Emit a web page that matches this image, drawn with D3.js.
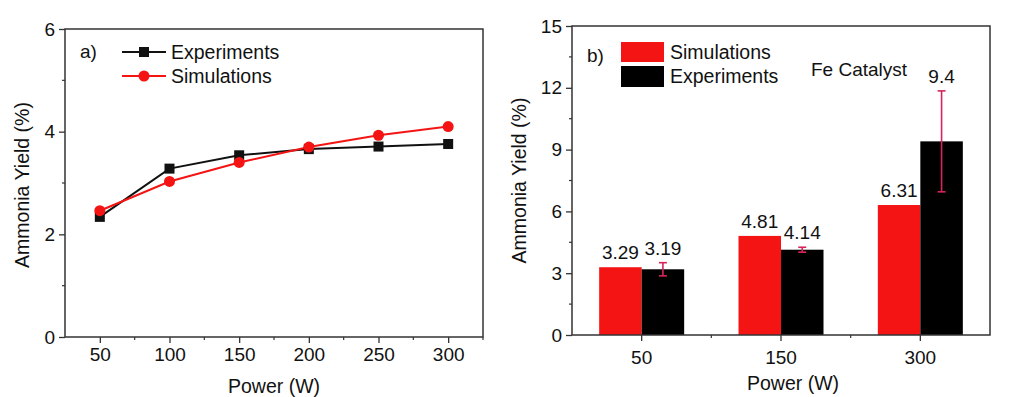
<!DOCTYPE html>
<html>
<head>
<meta charset="utf-8">
<script src="https://cdn.jsdelivr.net/npm/d3@7"></script>
<style>
  body { margin: 0; background: #fff; }
  svg { display: block; font-family: "Liberation Sans", Arial, sans-serif; }
  text { fill: #111; }
</style>
</head>
<body>
<svg id="chart" width="1017" height="397"></svg>
<script>
// panel a) line chart
const powerA   = [50, 100, 150, 200, 250, 300]
const expA     = [2.34, 3.28, 3.54, 3.66, 3.71, 3.76]
const simA     = [2.46, 3.03, 3.40, 3.70, 3.93, 4.10]
const xTicksA  = [50, 100, 150, 200, 250, 300]
const yTicksA  = [0, 2, 4, 6]

// panel b) bar chart
const powerB   = ['50', '150', '300']
const simB     = [3.29, 4.81, 6.31]
const expB     = [3.19, 4.14, 9.4]
const expErrB  = [0.32, 0.12, 2.45]
const yTicksB  = [0, 3, 6, 9, 12, 15]

const RED = '#f41414'
const ERR = '#d8245a'
const AX  = '#333'
const FS  = 19

const svg = d3.select('#chart')

function frame(g, x0, x1, y0, y1) {
  g.append('rect')
    .attr('x', x0).attr('y', y0)
    .attr('width', x1 - x0).attr('height', y1 - y0)
    .attr('fill', 'none').attr('stroke', AX).attr('stroke-width', 1.5)
}

function styleAxis(a) {
  a.select('.domain').remove()
  a.selectAll('line').attr('stroke', AX).attr('stroke-width', 1.3)
  a.selectAll('text').attr('font-size', FS).attr('fill', '#111')
    .style('font-family', '"Liberation Sans", Arial, sans-serif')
}

// ---------- panel a ----------
{
  const L = 65, R = 483, T = 29, B = 337
  const x = d3.scaleLinear().domain([25, 325]).range([L, R])
  const y = d3.scaleLinear().domain([0, 6]).range([B, T])
  const g = svg.append('g')

  // minor ticks
  g.append('g').selectAll('line').data(d3.range(75, 326, 50)).join('line')
    .attr('x1', d => x(d)).attr('x2', d => x(d)).attr('y1', B).attr('y2', B + 3)
    .attr('stroke', AX).attr('stroke-width', 1.2)
  g.append('g').selectAll('line').data([1, 3, 5]).join('line')
    .attr('y1', d => y(d)).attr('y2', d => y(d)).attr('x1', L).attr('x2', L - 3)
    .attr('stroke', AX).attr('stroke-width', 1.2)

  g.append('g').attr('transform', `translate(0,${B})`)
    .call(d3.axisBottom(x).tickValues(xTicksA).tickFormat(d3.format('d')).tickSize(6).tickPadding(5))
    .call(styleAxis)
  g.append('g').attr('transform', `translate(${L},0)`)
    .call(d3.axisLeft(y).tickValues(yTicksA).tickFormat(d3.format('d')).tickSize(6).tickPadding(4))
    .call(styleAxis)
  frame(g, L, R, T, B)

  const line = d3.line().x((d, i) => x(powerA[i])).y(d => y(d))

  g.append('path').datum(expA).attr('d', line)
    .attr('fill', 'none').attr('stroke', '#111').attr('stroke-width', 2)
  g.append('path').datum(simA).attr('d', line)
    .attr('fill', 'none').attr('stroke', RED).attr('stroke-width', 2)

  g.append('g').selectAll('rect').data(expA).join('rect')
    .attr('x', (d, i) => x(powerA[i]) - 5).attr('y', d => y(d) - 5)
    .attr('width', 10).attr('height', 10).attr('fill', '#111')
  g.append('g').selectAll('circle').data(simA).join('circle')
    .attr('cx', (d, i) => x(powerA[i])).attr('cy', d => y(d))
    .attr('r', 5.5).attr('fill', RED)

  g.append('text').attr('x', 80).attr('y', 58).attr('font-size', FS).text('a)')

  // legend
  const lg = g.append('g')
  lg.append('line').attr('x1', 122).attr('x2', 166).attr('y1', 52).attr('y2', 52)
    .attr('stroke', '#111').attr('stroke-width', 2)
  lg.append('rect').attr('x', 139).attr('y', 47).attr('width', 10).attr('height', 10).attr('fill', '#111')
  lg.append('text').attr('x', 171).attr('y', 59).attr('font-size', 19.5).text('Experiments')
  lg.append('line').attr('x1', 122).attr('x2', 166).attr('y1', 76).attr('y2', 76)
    .attr('stroke', RED).attr('stroke-width', 2)
  lg.append('circle').attr('cx', 144).attr('cy', 76).attr('r', 5.5).attr('fill', RED)
  lg.append('text').attr('x', 171).attr('y', 83).attr('font-size', 19.5).text('Simulations')

  g.append('text').attr('x', (L + R) / 2).attr('y', 393).attr('text-anchor', 'middle')
    .attr('font-size', 19.5).text('Power (W)')
  g.append('text').attr('transform', `translate(29,${(T + B) / 2 + 2}) rotate(-90)`)
    .attr('text-anchor', 'middle').attr('font-size', 19.5).text('Ammonia Yield (%)')
}

// ---------- panel b ----------
{
  const L = 572, R = 990, T = 26, B = 335
  const x = d3.scaleBand().domain(powerB).range([L, R]).padding(0)
  const y = d3.scaleLinear().domain([0, 15]).range([B, T])
  const bw = 42.5
  const g = svg.append('g')

  // minor ticks
  g.append('g').selectAll('line').data(powerB.slice(1)).join('line')
    .attr('x1', d => x(d)).attr('x2', d => x(d)).attr('y1', B).attr('y2', B + 3)
    .attr('stroke', AX).attr('stroke-width', 1.2)
  g.append('g').selectAll('line').data(d3.range(1.5, 15, 3)).join('line')
    .attr('y1', d => y(d)).attr('y2', d => y(d)).attr('x1', L).attr('x2', L - 3)
    .attr('stroke', AX).attr('stroke-width', 1.2)

  // bars
  g.append('g').selectAll('rect').data(simB).join('rect')
    .attr('x', (d, i) => x(powerB[i]) + x.bandwidth() / 2 - bw)
    .attr('y', d => y(d)).attr('width', bw).attr('height', d => B - y(d))
    .attr('fill', RED)
  g.append('g').selectAll('rect').data(expB).join('rect')
    .attr('x', (d, i) => x(powerB[i]) + x.bandwidth() / 2)
    .attr('y', d => y(d)).attr('width', bw).attr('height', d => B - y(d))
    .attr('fill', '#000')

  // error bars
  const eg = g.append('g').attr('stroke', ERR).attr('stroke-width', 1.6)
  expB.forEach((v, i) => {
    const cx = x(powerB[i]) + x.bandwidth() / 2 + bw / 2
    const e = expErrB[i]
    eg.append('line').attr('x1', cx).attr('x2', cx).attr('y1', y(v + e)).attr('y2', y(v - e))
    eg.append('line').attr('x1', cx - 4).attr('x2', cx + 4).attr('y1', y(v + e)).attr('y2', y(v + e))
    eg.append('line').attr('x1', cx - 4).attr('x2', cx + 4).attr('y1', y(v - e)).attr('y2', y(v - e))
  })

  // value labels
  g.append('g').selectAll('text').data(simB).join('text')
    .attr('x', (d, i) => x(powerB[i]) + x.bandwidth() / 2 - bw / 2)
    .attr('y', d => y(d) - 8).attr('text-anchor', 'middle').attr('font-size', FS)
    .text(d => d)
  g.append('g').selectAll('text').data(expB).join('text')
    .attr('x', (d, i) => x(powerB[i]) + x.bandwidth() / 2 + bw / 2)
    .attr('y', (d, i) => y(d + expErrB[i]) - 8).attr('text-anchor', 'middle').attr('font-size', FS)
    .text(d => d)

  g.append('g').attr('transform', `translate(0,${B})`)
    .call(d3.axisBottom(x).tickSize(6).tickPadding(10))
    .call(styleAxis)
  g.append('g').attr('transform', `translate(${L},0)`)
    .call(d3.axisLeft(y).tickValues(yTicksB).tickSize(6).tickPadding(4))
    .call(styleAxis)
  frame(g, L, R, T, B)

  g.append('text').attr('x', 587).attr('y', 62).attr('font-size', FS).text('b)')

  // legend
  const lg = g.append('g')
  lg.append('rect').attr('x', 621).attr('y', 42).attr('width', 43).attr('height', 20).attr('fill', RED)
  lg.append('rect').attr('x', 621).attr('y', 66).attr('width', 43).attr('height', 21).attr('fill', '#000')
  lg.append('text').attr('x', 670).attr('y', 59).attr('font-size', 19.5).text('Simulations')
  lg.append('text').attr('x', 670).attr('y', 83).attr('font-size', 19.5).text('Experiments')
  g.append('text').attr('x', 811).attr('y', 76).attr('font-size', FS).text('Fe Catalyst')

  g.append('text').attr('x', 793).attr('y', 390).attr('text-anchor', 'middle')
    .attr('font-size', 19.5).text('Power (W)')
  g.append('text').attr('transform', `translate(526,${(T + B) / 2}) rotate(-90)`)
    .attr('text-anchor', 'middle').attr('font-size', 19.5).text('Ammonia Yield (%)')
}
</script>
</body>
</html>
